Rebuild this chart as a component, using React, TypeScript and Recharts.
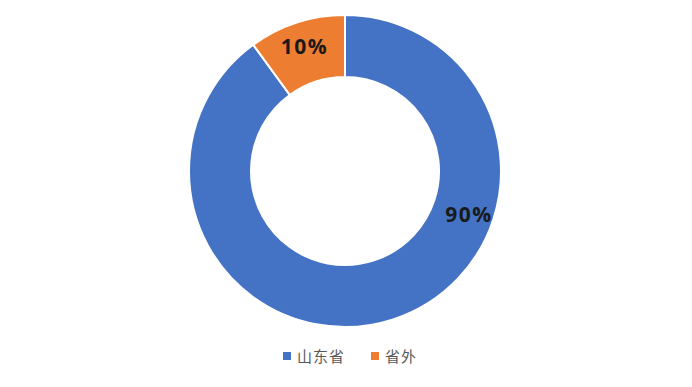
import React from 'react';
import { PieChart, Pie, Cell } from 'recharts';

// Share of origin: within the province vs. outside
const categories = ['山东省', '省外'];
const shares = [90, 10];
const colors = ['#4472C4', '#ED7D31'];

const data = categories.map((name, i) => ({ name, value: shares[i] }));

const RADIAN = Math.PI / 180;

const renderLabel = (props: any) => {
  const { cx, cy, innerRadius, outerRadius, midAngle, percent, value } = props;
  const r = (innerRadius + outerRadius) / 2 + 6;
  // the dominant slice gets its label on the right-hand side of the ring
  const angle = percent > 0.5 ? -19 : midAngle;
  const x = cx + r * Math.cos(-angle * RADIAN);
  const y = cy + r * Math.sin(-angle * RADIAN);
  return (
    <text
      x={x}
      y={y}
      fill="#1a1a1a"
      textAnchor="middle"
      dominantBaseline="central"
      fontSize={21}
      fontWeight="bold"
      letterSpacing={1.5}
      fontFamily="'Open Sans', 'Noto Sans', sans-serif"
    >
      {`${value}%`}
    </text>
  );
};

export default function App() {
  return (
    <div style={{ position: 'absolute', left: 0, top: 0, width: 692, height: 387, background: '#fff' }}>
      <PieChart width={692} height={387} margin={{ top: 0, right: 0, bottom: 0, left: 0 }}>
        <Pie
          data={data}
          dataKey="value"
          nameKey="name"
          cx={345}
          cy={171}
          innerRadius={94}
          outerRadius={156}
          startAngle={90}
          endAngle={-270}
          stroke="#fff"
          strokeWidth={2}
          label={renderLabel}
          labelLine={false}
          isAnimationActive={false}
        >
          {data.map((d, i) => (
            <Cell key={d.name} fill={colors[i]} />
          ))}
        </Pie>
      </PieChart>
      <div
        style={{
          position: 'absolute',
          top: 345,
          left: 0,
          width: 692,
          display: 'flex',
          justifyContent: 'center',
          gap: 26,
          paddingLeft: 8,
          boxSizing: 'border-box',
        }}
      >
        {data.map((d, i) => (
          <div key={d.name} style={{ display: 'flex', alignItems: 'center' }}>
            <span style={{ width: 8, height: 8, background: colors[i], display: 'inline-block', marginRight: 6 }} />
            <span
              style={{
                fontSize: 15,
                color: '#595959',
                fontFamily: "'Noto Sans CJK SC', sans-serif",
                letterSpacing: 1,
              }}
            >
              {d.name}
            </span>
          </div>
        ))}
      </div>
    </div>
  );
}
